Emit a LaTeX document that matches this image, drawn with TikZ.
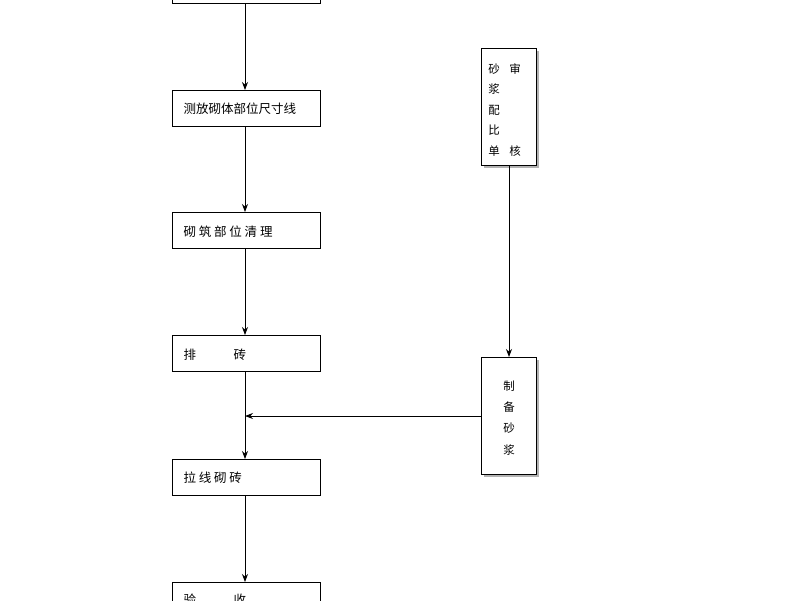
\documentclass[tikz,border=0pt]{standalone}
\usepackage{fontspec}
\newfontfamily\cjk{Noto Sans CJK SC}
\usetikzlibrary{arrows.meta}
\begin{document}
\begin{tikzpicture}[x=1pt,y=-1pt,
  box/.style={draw,line width=0.9pt,fill=white,minimum width=148pt,minimum height=36pt,anchor=north west,inner sep=0pt},
  vbox/.style={draw,line width=1pt,fill=white,minimum width=55pt,minimum height=117pt,anchor=north west,inner sep=0pt},
  lbl/.style={font=\cjk\fontsize{12.5}{14}\selectfont,anchor=west},
  rl/.style={font=\cjk\fontsize{11.5}{14}\selectfont},
  arr/.style={-{Stealth[length=8pt,width=6pt]},line width=0.8pt}]
\useasboundingbox (0,0) rectangle (800,600);
\clip (0,0) rectangle (800,600);
\node[box] (b1) at (172,-33) {};
\node[box] (b2) at (172,90) {};
\node[box] (b3) at (172,212) {};
\node[box] (b4) at (172,335) {};
\node[box] (b5) at (172,459) {};
\node[box] (b6) at (172,582) {};
\node[lbl] at (180,109) {测放砌体部位尺寸线};
\node[lbl] at (180,232) {砌\ 筑\ 部\ 位\ 清\ 理};
\node[lbl] at (180,355) {排\qquad\quad 砖};
\node[lbl] at (180,478) {拉\ 线\ 砌\ 砖};
\node[lbl] at (180,600) {验\qquad\quad 收};
\fill[gray!60] (484,51) rectangle (539,168);
\node[vbox] (r1) at (481,48) {};
\fill[gray!60] (484,360) rectangle (539,477);
\node[vbox] (r2) at (481,357) {};
\foreach \t/\y in {砂/69,浆/89,配/110,比/130,单/151} \node[rl] at (494,\y) {\t};
\node[rl] at (515,69) {审};
\node[rl] at (515,151) {核};
\foreach \t/\y in {制/386,备/407,砂/428,浆/450} \node[rl] at (509,\y) {\t};
\draw[arr] (b1.south -| 245,0) -- (b2.north -| 245,0);
\draw[arr] (b2.south -| 245,0) -- (b3.north -| 245,0);
\draw[arr] (b3.south -| 245,0) -- (b4.north -| 245,0);
\draw[arr] (b4.south -| 245,0) -- (b5.north -| 245,0);
\draw[arr] (b5.south -| 245,0) -- (b6.north -| 245,0);
\draw[arr] (r1.south) -- (r2.north);
\draw[arr] (r2.west) -- (r2.west -| 245,0);
\end{tikzpicture}
\end{document}
